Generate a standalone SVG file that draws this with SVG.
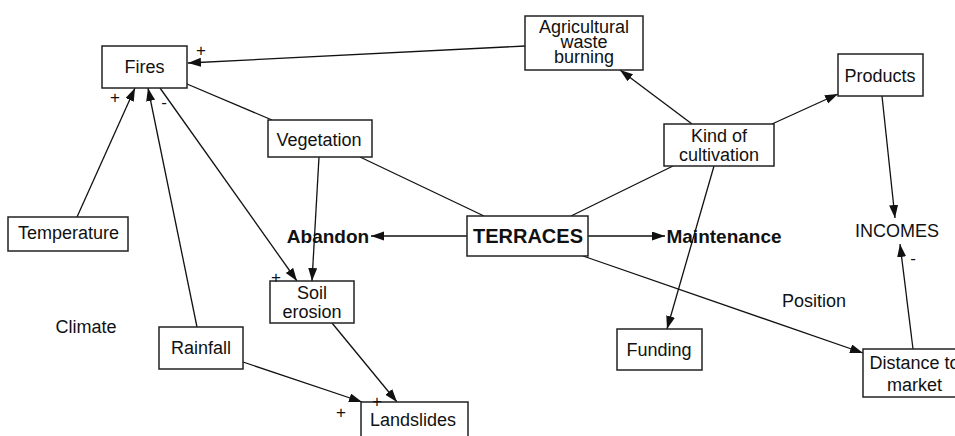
<svg xmlns="http://www.w3.org/2000/svg" width="955" height="436" viewBox="0 0 955 436">
<style>
.box{fill:#fff;stroke:#222;stroke-width:1.5}
.t{font-family:"Liberation Sans",Arial,sans-serif;font-size:18px;fill:#111;text-anchor:middle}
.b{font-weight:bold}
.sg{font-family:"Liberation Sans",Arial,sans-serif;font-size:17px;fill:#111;text-anchor:middle}
.ln{stroke:#111;stroke-width:1.3;fill:none}
.ar{marker-end:url(#ah)}
</style>
<defs>
<marker id="ah" markerUnits="userSpaceOnUse" markerWidth="14" markerHeight="10" refX="13" refY="4.5" orient="auto">
<path d="M0,0 L13,4.5 L0,9 z" fill="#111"/>
</marker>
</defs>
<rect width="955" height="436" fill="#fff"/>
<g id="connectors">
<line class="ln ar" x1="525" y1="46" x2="188" y2="63"/>
<line class="ln ar" x1="77" y1="217" x2="135" y2="88"/>
<line class="ln ar" x1="197" y1="327" x2="148" y2="88"/>
<line class="ln ar" x1="160" y1="88" x2="297" y2="281"/>
<line class="ln" x1="187" y1="84" x2="272" y2="120"/>
<line class="ln ar" x1="319" y1="157" x2="312" y2="281"/>
<line class="ln" x1="360" y1="157" x2="484" y2="216"/>
<line class="ln" x1="673" y1="166" x2="571" y2="216"/>
<line class="ln ar" x1="692" y1="124" x2="620" y2="70"/>
<line class="ln ar" x1="772" y1="124" x2="838" y2="94"/>
<line class="ln ar" x1="714" y1="166" x2="667" y2="329"/>
<line class="ln ar" x1="882" y1="96" x2="895" y2="218"/>
<line class="ln ar" x1="913" y1="349" x2="900" y2="244"/>
<line class="ln ar" x1="467" y1="236" x2="371" y2="236"/>
<line class="ln ar" x1="588" y1="236" x2="665" y2="236"/>
<line class="ln ar" x1="583" y1="256" x2="863" y2="353"/>
<line class="ln ar" x1="243" y1="362" x2="362" y2="402"/>
<line class="ln ar" x1="332" y1="323" x2="397" y2="402"/>
</g>
<g id="fires"><rect class="box" x="102" y="46" width="85" height="42"/><text class="t" x="144.5" y="73">Fires</text></g>
<g id="agri"><rect class="box" x="525" y="16" width="118" height="54"/><text class="t" x="584" y="33">Agricultural</text><text class="t" x="584" y="48">waste</text><text class="t" x="584" y="63">burning</text></g>
<g id="products"><rect class="box" x="838" y="54" width="85" height="42"/><text class="t" x="880" y="82">Products</text></g>
<g id="kind"><rect class="box" x="664" y="124" width="110" height="42"/><text class="t" x="719" y="142">Kind of</text><text class="t" x="719" y="161">cultivation</text></g>
<g id="vegetation"><rect class="box" x="268" y="120" width="104" height="37"/><text class="t" x="319" y="146">Vegetation</text></g>
<g id="temperature"><rect class="box" x="8" y="217" width="120" height="34"/><text class="t" x="68.5" y="239">Temperature</text></g>
<g id="terraces"><rect class="box" x="467" y="216" width="121" height="40"/><text class="t b" x="528" y="243" style="font-size:20px">TERRACES</text></g>
<g id="abandon"><text class="t b" x="328" y="243" style="font-size:19px">Abandon</text></g>
<g id="maintenance"><text class="t b" x="724" y="243" style="font-size:19px">Maintenance</text></g>
<g id="incomes"><text class="t" x="897" y="237">INCOMES</text></g>
<g id="soil"><rect class="box" x="270" y="281" width="84" height="42"/><text class="t" x="312" y="299">Soil</text><text class="t" x="312" y="318">erosion</text></g>
<g id="climate"><text class="t" x="86" y="333">Climate</text></g>
<g id="position"><text class="t" x="814" y="307">Position</text></g>
<g id="rainfall"><rect class="box" x="159" y="327" width="84" height="42"/><text class="t" x="201" y="354">Rainfall</text></g>
<g id="funding"><rect class="box" x="617" y="329" width="85" height="41"/><text class="t" x="659" y="356">Funding</text></g>
<g id="distance"><rect class="box" x="863" y="349" width="103" height="48"/><text class="t" x="914.5" y="369">Distance to</text><text class="t" x="914.5" y="391">market</text></g>
<g id="landslides"><rect class="box" x="361" y="402" width="107" height="40"/><text class="t" x="413" y="426">Landslides</text></g>
<g id="signs">
<text class="sg" x="201" y="56">+</text>
<text class="sg" x="115" y="103">+</text>
<text class="sg" x="164" y="108">-</text>
<text class="sg" x="276" y="283">+</text>
<text class="sg" x="341" y="418">+</text>
<text class="sg" x="377" y="407">+</text>
<text class="sg" x="913" y="264">-</text>
</g>
</svg>
